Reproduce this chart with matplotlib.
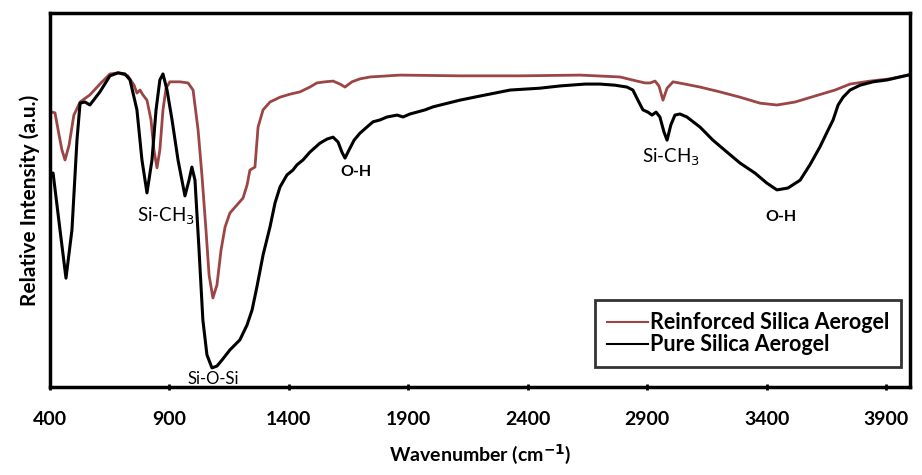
import numpy as np
import matplotlib
matplotlib.use("Agg")
from matplotlib import pyplot as plt

plt.rcParams['font.family'] = ['Lato', 'DejaVu Sans']

# FTIR spectra, wavenumber (cm-1) vs relative intensity (a.u., 0-100)
pure_wn = [408, 413, 442, 467, 492, 513, 526, 547, 567, 609, 651, 685, 714, 735, 764, 785,
           806, 827, 844, 860, 873, 890, 911, 936, 965, 982, 994, 1007, 1024, 1040, 1057,
           1078, 1099, 1120, 1153, 1195, 1225, 1246, 1266, 1292, 1321, 1342, 1363, 1392,
           1417, 1434, 1459, 1488, 1530, 1560, 1585, 1606, 1622, 1635, 1652, 1673, 1698,
           1723, 1752, 1781, 1811, 1853, 1878, 1907, 1936, 1970, 2003, 2053, 2116, 2200,
           2326, 2451, 2535, 2640, 2702, 2765, 2815, 2840, 2861, 2882, 2903, 2920, 2937,
           2953, 2970, 2983, 2999, 3016, 3037, 3066, 3121, 3175, 3234, 3288, 3351, 3401,
           3443, 3489, 3540, 3581, 3623, 3657, 3678, 3699, 3720, 3749, 3791, 3845, 3904,
           3958, 3992]
pure_val = [57.2, 57.2, 42.0, 29.1, 42.0, 66.0, 75.9, 76.2, 75.4, 78.9, 83.2, 84.0, 83.7,
            82.1, 74.1, 60.7, 51.9, 60.7, 74.1, 82.1, 83.7, 79.4, 71.4, 60.7, 51.1, 55.3,
            58.8, 55.3, 36.6, 17.9, 8.6, 5.1, 5.6, 7.2, 9.9, 12.6, 16.6, 20.6, 26.7, 35.3,
            42.8, 49.2, 53.5, 56.7, 58.0, 59.4, 60.7, 62.8, 65.2, 66.3, 66.8, 65.5, 62.8,
            61.2, 63.4, 66.0, 67.9, 69.3, 70.9, 71.4, 72.2, 72.7, 72.2, 73.0, 73.5, 74.1,
            74.9, 75.7, 76.7, 77.8, 79.4, 79.9, 80.5, 81.0, 81.0, 80.7, 80.2, 79.4, 76.7,
            74.1, 73.5, 72.7, 73.5, 72.2, 68.2, 66.0, 70.1, 72.7, 73.0, 72.2, 69.5, 66.0,
            62.8, 59.9, 57.2, 54.5, 52.7, 53.2, 55.3, 59.4, 64.2, 68.7, 71.4, 75.4, 77.5,
            79.4, 80.7, 81.6, 82.1, 82.9, 83.4]

reinf_wn = [408, 421, 438, 450, 463, 480, 500, 526, 567, 609, 651, 685, 726, 752, 764, 777,
            789, 806, 823, 835, 848, 860, 873, 886, 902, 944, 978, 999, 1020, 1036, 1053,
            1066, 1082, 1099, 1116, 1133, 1153, 1183, 1208, 1225, 1237, 1258, 1271, 1292,
            1321, 1363, 1405, 1446, 1488, 1517, 1551, 1585, 1614, 1635, 1664, 1698, 1740,
            1865, 2116, 2367, 2619, 2786, 2857, 2891, 2912, 2933, 2949, 2966, 2983, 3008,
            3058, 3121, 3205, 3288, 3372, 3443, 3519, 3602, 3686, 3749, 3833, 3916, 3992]
reinf_val = [73.5, 73.3, 67.4, 63.4, 60.7, 64.7, 72.7, 76.2, 78.1, 81.0, 83.7, 84.0, 83.2,
             80.7, 78.6, 79.4, 78.1, 76.7, 71.4, 63.4, 58.6, 63.4, 74.1, 79.9, 81.6, 81.6,
             81.3, 79.4, 68.7, 56.7, 42.0, 29.9, 23.8, 27.3, 36.6, 42.8, 46.5, 48.7, 50.5,
             54.0, 58.0, 58.8, 69.5, 74.1, 76.2, 77.5, 78.3, 78.9, 80.2, 81.3, 81.6, 81.8,
             81.0, 80.2, 81.6, 82.4, 82.9, 83.4, 83.2, 83.2, 83.4, 82.9, 81.8, 81.3, 81.3,
             81.8, 80.5, 76.7, 79.9, 81.6, 81.0, 80.2, 78.9, 77.5, 75.9, 75.4, 76.2, 77.8,
             79.4, 81.0, 81.8, 82.4, 83.4]

# peak assignments: (label, wavenumber, intensity, bold, size)
peak_labels = [("Si-CH$_3$", 886, 45.5, False, 13.5),
               ("O-H", 1681, 57.5, True, 11.5),
               ("Si-CH$_3$", 2999, 61.5, False, 13.5),
               ("O-H", 3460, 45.5, True, 11.5),
               ("Si-O-Si", 1082, 2.1, False, 12)]

xticks = [400, 900, 1400, 1900, 2400, 2900, 3400, 3900]

fig = plt.figure(figsize=(9.22, 4.75), dpi=100)
ax = fig.add_axes([0.0542, 0.1853, 0.9328, 0.7873])

ax.plot(reinf_wn, reinf_val, color='#9c4545', lw=2.0, label='Reinforced Silica Aerogel')
ax.plot(pure_wn, pure_val, color='black', lw=2.2, label='Pure Silica Aerogel')

for txt, x, y, bold, size in peak_labels:
    ax.text(x, y, txt, ha='center', va='center', fontsize=size,
            fontweight='bold' if bold else 'normal')

ax.set_xlim(400, 4000)
ax.set_ylim(0, 100)
ax.set_xticks(xticks)
ax.set_yticks([])
ax.tick_params(axis='x', direction='inout', length=5, width=2, labelsize=14, pad=15)
for lbl in ax.get_xticklabels():
    lbl.set_fontweight('bold')
for s in ax.spines.values():
    s.set_linewidth(2.5)

ax.set_xlabel("Wavenumber (cm$^{\\mathbf{-1}}$)", fontsize=14, fontweight='bold', labelpad=10)
ax.set_ylabel("Relative Intensity (a.u.)", fontsize=15, fontweight='bold', labelpad=7)

leg = ax.legend(loc='lower right', bbox_to_anchor=(0.99, 0.053),
                prop={'weight': 'bold', 'size': 15.5}, frameon=True, fancybox=False,
                handlelength=1.9, handletextpad=0.1, labelspacing=0.05,
                borderpad=0.55, borderaxespad=0)
leg.get_frame().set_edgecolor('black')
leg.get_frame().set_linewidth(2)
for line in leg.get_lines():
    line.set_linewidth(1.5)

fig.savefig("out.png", dpi=100)
